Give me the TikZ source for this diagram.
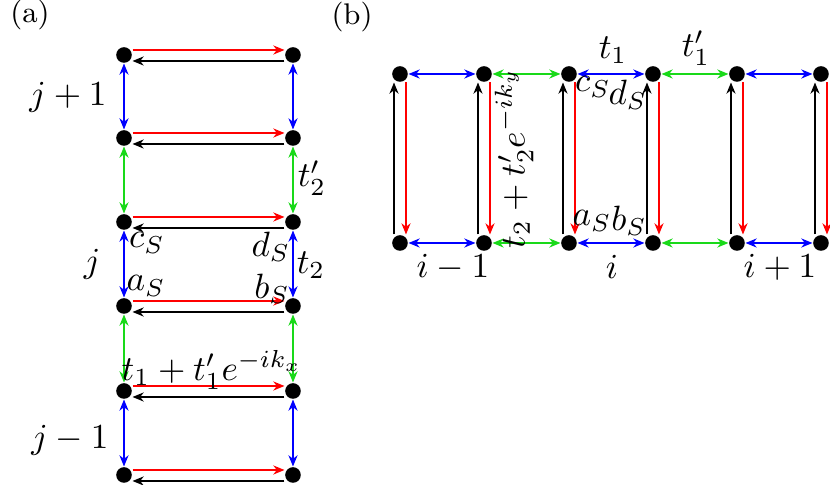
\documentclass[tikz,border=0pt]{standalone}
\usepackage{amsmath}
\usetikzlibrary{arrows.meta}
\definecolor{hopred}{rgb}{1, 0, 0}
\definecolor{hopblue}{rgb}{0, 0, 1}
\definecolor{hopgreen}{rgb}{0.1, 0.85, 0.1}
\tikzset{site/.style={circle, fill=black, inner sep=0pt, minimum size=0.156cm}}
\tikzset{fwd/.style={line width=0.4pt, color=hopred, -{Stealth[length=3.2pt, width=2.6pt]}}}
\tikzset{bwd/.style={line width=0.4pt, color=black, -{Stealth[length=3.2pt, width=2.6pt]}}}
\tikzset{intra/.style={line width=0.4pt, color=hopblue, {Stealth[length=3.2pt, width=2.6pt]}-{Stealth[length=3.2pt, width=2.6pt]}}}
\tikzset{inter/.style={line width=0.4pt, color=hopgreen, {Stealth[length=3.2pt, width=2.6pt]}-{Stealth[length=3.2pt, width=2.6pt]}}}

\begin{document}
\begin{tikzpicture}
        \useasboundingbox (0,0) rectangle (8.3,4.85);

        % (a) ladder along y
        \node[site] (p1) at (1.24,4.30) {};
        \node[site] (p2) at (1.24,3.47) {};
        \node[site] (p3) at (1.24,2.63) {};
        \node[site] (p4) at (1.24,1.79) {};
        \node[site] (p5) at (1.24,0.94) {};
        \node[site] (p6) at (1.24,0.10) {};
        \node[site] (q1) at (2.93,4.30) {};
        \node[site] (q2) at (2.93,3.47) {};
        \node[site] (q3) at (2.93,2.63) {};
        \node[site] (q4) at (2.93,1.79) {};
        \node[site] (q5) at (2.93,0.94) {};
        \node[site] (q6) at (2.93,0.10) {};

        \draw[fwd] ([yshift=0.05cm]p1.east) -- ([yshift=0.05cm]q1.west);
        \draw[bwd] ([yshift=-0.06cm]q1.west) -- ([yshift=-0.06cm]p1.east);
        \draw[fwd] ([yshift=0.05cm]p2.east) -- ([yshift=0.05cm]q2.west);
        \draw[bwd] ([yshift=-0.06cm]q2.west) -- ([yshift=-0.06cm]p2.east);
        \draw[fwd] ([yshift=0.05cm]p3.east) -- ([yshift=0.05cm]q3.west);
        \draw[bwd] ([yshift=-0.06cm]q3.west) -- ([yshift=-0.06cm]p3.east);
        \draw[fwd] ([yshift=0.05cm]p4.east) -- ([yshift=0.05cm]q4.west);
        \draw[bwd] ([yshift=-0.06cm]q4.west) -- ([yshift=-0.06cm]p4.east);
        \draw[fwd] ([yshift=0.05cm]p5.east) -- ([yshift=0.05cm]q5.west);
        \draw[bwd] ([yshift=-0.06cm]q5.west) -- ([yshift=-0.06cm]p5.east);
        \draw[fwd] ([yshift=0.05cm]p6.east) -- ([yshift=0.05cm]q6.west);
        \draw[bwd] ([yshift=-0.06cm]q6.west) -- ([yshift=-0.06cm]p6.east);

        \draw[intra] (p1) -- (p2);
        \draw[inter] (p2) -- (p3);
        \draw[intra] (p3) -- (p4);
        \draw[inter] (p4) -- (p5);
        \draw[intra] (p5) -- (p6);
        \draw[intra] (q1) -- (q2);
        \draw[inter] (q2) -- (q3);
        \draw[intra] (q3) -- (q4);
        \draw[inter] (q4) -- (q5);
        \draw[intra] (q5) -- (q6);

        \node[anchor=west, font=\fontsize{8.5}{10}\selectfont] (la) at (-0.02,4.70) {(a)};
        \node (jup) at (0.68,3.88) {$j+1$};
        \node (tpt) at (3.12,3.07) {$t_2'$};
        \node (cla) at (1.47,2.42) {$c_S$};
        \node (dla) at (2.71,2.38) {$d_S$};
        \node (jmid) at (0.92,2.21) {$j$};
        \node (tt) at (3.11,2.20) {$t_2$};
        \node (ala) at (1.46,1.99) {$a_S$};
        \node (bla) at (2.72,1.96) {$b_S$};
        \node (tx) at (2.12,1.15) {$t_1+t_1'e^{-ik_x}$};
        \node (jdn) at (0.70,0.45) {$j-1$};

        % (b) ladder along x
        \node[site] (t1) at (4.00,4.11) {};
        \node[site] (t2) at (4.84,4.11) {};
        \node[site] (t3) at (5.69,4.11) {};
        \node[site] (t4) at (6.53,4.11) {};
        \node[site] (t5) at (7.37,4.11) {};
        \node[site] (t6) at (8.21,4.11) {};
        \node[site] (b1) at (4.00,2.42) {};
        \node[site] (b2) at (4.84,2.42) {};
        \node[site] (b3) at (5.69,2.42) {};
        \node[site] (b4) at (6.53,2.42) {};
        \node[site] (b5) at (7.37,2.42) {};
        \node[site] (b6) at (8.21,2.42) {};

        \draw[intra] (t1) -- (t2);
        \draw[inter] (t2) -- (t3);
        \draw[intra] (t3) -- (t4);
        \draw[inter] (t4) -- (t5);
        \draw[intra] (t5) -- (t6);
        \draw[intra] (b1) -- (b2);
        \draw[inter] (b2) -- (b3);
        \draw[intra] (b3) -- (b4);
        \draw[inter] (b4) -- (b5);
        \draw[intra] (b5) -- (b6);

        \draw[bwd] ([xshift=-0.06cm]b1.north) -- ([xshift=-0.06cm]t1.south);
        \draw[fwd] ([xshift=0.06cm]t1.south) -- ([xshift=0.06cm]b1.north);
        \draw[bwd] ([xshift=-0.06cm]b2.north) -- ([xshift=-0.06cm]t2.south);
        \draw[fwd] ([xshift=0.06cm]t2.south) -- ([xshift=0.06cm]b2.north);
        \draw[bwd] ([xshift=-0.06cm]b3.north) -- ([xshift=-0.06cm]t3.south);
        \draw[fwd] ([xshift=0.06cm]t3.south) -- ([xshift=0.06cm]b3.north);
        \draw[bwd] ([xshift=-0.06cm]b4.north) -- ([xshift=-0.06cm]t4.south);
        \draw[fwd] ([xshift=0.06cm]t4.south) -- ([xshift=0.06cm]b4.north);
        \draw[bwd] ([xshift=-0.06cm]b5.north) -- ([xshift=-0.06cm]t5.south);
        \draw[fwd] ([xshift=0.06cm]t5.south) -- ([xshift=0.06cm]b5.north);
        \draw[bwd] ([xshift=-0.06cm]b6.north) -- ([xshift=-0.06cm]t6.south);
        \draw[fwd] ([xshift=0.06cm]t6.south) -- ([xshift=0.06cm]b6.north);

        \node[font=\fontsize{8.5}{10}\selectfont] (lb) at (3.52,4.68) {(b)};
        \node (tone) at (6.13,4.35) {$t_1$};
        \node (tonep) at (6.96,4.37) {$t_1'$};
        \node (clb) at (5.93,3.98) {$c_S$};
        \node (dlb) at (6.28,3.90) {$d_S$};
        \node (alb) at (5.92,2.64) {$a_S$};
        \node (blb) at (6.29,2.64) {$b_S$};
        \node (idn) at (4.53,2.18) {$i-1$};
        \node (imid) at (6.12,2.18) {$i$};
        \node (iup) at (7.80,2.18) {$i+1$};
        \node[rotate=90] (ty) at (5.14,3.27) {$t_2+t_2'e^{-ik_y}$};
\end{tikzpicture}
\end{document}
